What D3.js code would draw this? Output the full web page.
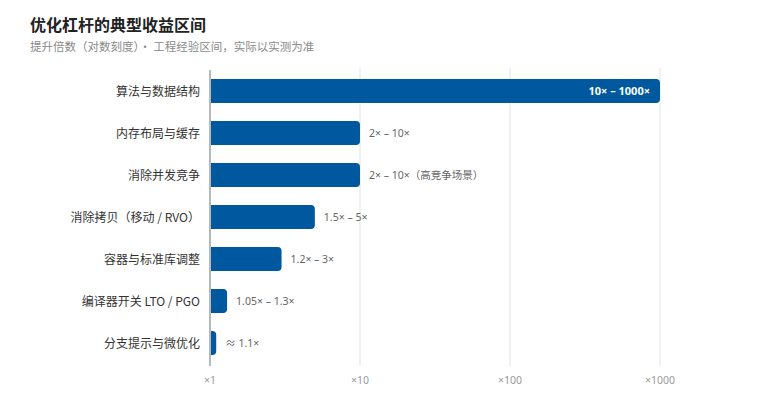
<!DOCTYPE html>
<html>
<head>
<meta charset="utf-8">
<script src="https://cdn.jsdelivr.net/npm/d3@7/dist/d3.min.js"></script>
<style>
  body { margin: 0; background: #fff; }
  svg { font-family: "Noto Sans CJK SC", "Noto Sans", sans-serif; }
  .num { font-family: "Noto Sans", "Noto Sans CJK SC", sans-serif; }
</style>
</head>
<body>
<div id="chart"></div>
<script>
// categories, top to bottom
var categories = ["算法与数据结构", "内存布局与缓存", "消除并发竞争", "消除拷贝（移动 / RVO）",
                  "容器与标准库调整", "编译器开关 LTO / PGO", "分支提示与微优化"];
// upper end of each range (bar length)
var upperValues = [1000, 10, 10, 5, 3, 1.3, 1.1];
// text shown beside each bar
var rangeLabels = ["10× – 1000×", "2× – 10×", "2× – 10×（高竞争场景）", "1.5× – 5×",
                   "1.2× – 3×", "1.05× – 1.3×", "≈ 1.1×"];
var tickValues = [1, 10, 100, 1000];
var tickLabels = ["×1", "×10", "×100", "×1000"];

var width = 760, height = 400;
var margin = {top: 70, right: 100, bottom: 36, left: 210};

var svg = d3.select("#chart").append("svg")
  .attr("width", width).attr("height", height);

// heading
svg.append("text")
  .attr("x", 30).attr("y", 31)
  .style("font-size", "16px").style("font-weight", "bold").style("fill", "#222")
  .text("优化杠杆的典型收益区间");
svg.append("text")
  .attr("x", 30).attr("y", 51)
  .style("font-size", "11.5px").style("fill", "#8a8a8a")
  .text("提升倍数（对数刻度）· 工程经验区间，实际以实测为准");

var x = d3.scaleLog().domain([1, 1000]).range([margin.left, width - margin.right]);
var y = d3.scaleBand().domain(categories)
  .range([margin.top, height - margin.bottom])
  .paddingInner(0.43).paddingOuter(0.215);

// grid lines
svg.append("g").selectAll("line")
  .data(tickValues.slice(1))
  .enter().append("line")
  .attr("x1", function(d) { return x(d); }).attr("x2", function(d) { return x(d); })
  .attr("y1", margin.top - 2).attr("y2", height - margin.bottom + 2)
  .style("stroke", "#e6e8e8").style("stroke-width", 1.2);

// x tick labels
svg.append("g").selectAll("text")
  .data(tickValues)
  .enter().append("text")
  .attr("class", "num")
  .attr("x", function(d) { return x(d); })
  .attr("y", height - margin.bottom + 20)
  .style("text-anchor", "middle").style("font-size", "10.5px").style("fill", "#9a9a9a")
  .text(function(d, i) { return tickLabels[i]; });

// bars, rounded on the right side only
var r = 4;
svg.append("g").selectAll("path")
  .data(upperValues)
  .enter().append("path")
  .attr("d", function(d, i) {
    var x0 = x(1), x1 = x(d), t = y(categories[i]), h = y.bandwidth();
    var rr = Math.min(r, x1 - x0);
    return "M" + x0 + "," + t + "H" + (x1 - rr) +
      "Q" + x1 + "," + t + " " + x1 + "," + (t + rr) +
      "V" + (t + h - rr) +
      "Q" + x1 + "," + (t + h) + " " + (x1 - rr) + "," + (t + h) +
      "H" + x0 + "Z";
  })
  .style("fill", "#00589f");

// left axis line
svg.append("line")
  .attr("x1", x(1)).attr("x2", x(1))
  .attr("y1", margin.top).attr("y2", height - margin.bottom + 2)
  .style("stroke", "#b4b9b9").style("stroke-width", 2);

// category labels
svg.append("g").selectAll("text")
  .data(categories)
  .enter().append("text")
  .attr("x", margin.left - 10)
  .attr("y", function(d) { return y(d) + y.bandwidth() / 2; })
  .attr("dy", "0.4em")
  .style("text-anchor", "end").style("font-size", "12px").style("fill", "#333")
  .text(function(d) { return d; });

// value labels: inside the bar when it is long, otherwise beside it
svg.append("g").selectAll("text")
  .data(upperValues)
  .enter().append("text")
  .attr("class", "num")
  .attr("x", function(d) { return d >= 100 ? x(d) - 10 : x(d) + 9; })
  .attr("y", function(d, i) { return y(categories[i]) + y.bandwidth() / 2; })
  .attr("dy", "0.36em")
  .style("text-anchor", function(d) { return d >= 100 ? "end" : "start"; })
  .style("font-size", function(d) { return d >= 100 ? "11px" : "10.5px"; })
  .style("font-weight", function(d) { return d >= 100 ? "bold" : "normal"; })
  .style("fill", function(d) { return d >= 100 ? "#fff" : "#666"; })
  .text(function(d, i) { return rangeLabels[i]; });
</script>
</body>
</html>
